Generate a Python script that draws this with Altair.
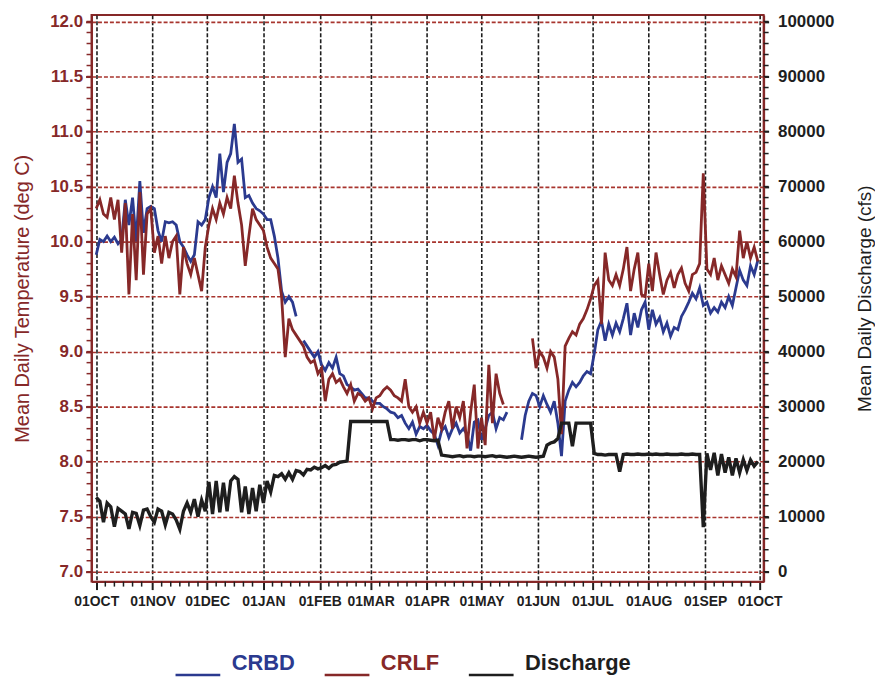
import altair as alt
import pandas as pd

nan = float("nan")

# ---------------- data (one value every 2 days from 01OCT) -------------
START_DATE = "1990-10-01"
STEP = "2D"

crbd = [
    # Oct
    9.88, 10.02, 10.00, 10.05, 10.00, 10.04, 9.98, 10.02, 10.38, 10.15, 10.40, 10.00, 10.55, 10.08, 10.30, 10.32,
    # Nov
    10.30, 10.10, 10.00, 10.18, 10.17, 10.18, 10.15, 10.00, 9.95, 9.88, 9.82, 9.88, 10.18, 10.15, 10.20,
    # Dec
    10.40, 10.50, 10.40, 10.80, 10.45, 10.72, 10.80, 11.07, 10.72, 10.75, 10.40, 10.42, 10.35, 10.30, 10.28,
    # Jan
    10.25, 10.20, 10.20, 10.05, 9.85, 9.55, 9.45, 9.50, 9.45, 9.32, nan, 9.10, 9.05, 9.00, 8.95, 9.00,
    # Feb
    8.88, 8.83, 8.90, 8.85, 8.95, 8.80, 8.78, 8.70, 8.68, 8.65, 8.66, 8.62, 8.58, 8.58,
    # Mar
    8.55, 8.53, 8.53, 8.50, 8.48, 8.45, 8.44, 8.40, 8.42, 8.35, 8.30, 8.36, 8.25, 8.32, 8.30,
    # Apr
    8.33, 8.28, 8.25, 8.15, 8.28, 8.32, 8.22, 8.30, 8.35, 8.26, 8.30, 8.25, 8.10, 8.36, 8.38,
    # May
    8.20, 8.30, 8.42, 8.45, 8.30, 8.40, 8.38, 8.45, nan, nan, nan, 8.20, 8.42, 8.55, 8.62, 8.60,
    # Jun
    8.50, 8.60, 8.52, 8.45, 8.55, 8.35, 8.05, 8.55, 8.65, 8.72, 8.68, 8.72, 8.78, 8.82, 8.80,
    # Jul
    8.98, 9.20, 9.28, 9.10, 9.25, 9.15, 9.26, 9.18, 9.30, 9.44, 9.15, 9.35, 9.22, 9.38, 9.45, 9.20,
    # Aug
    9.38, 9.25, 9.31, 9.18, 9.26, 9.14, 9.22, 9.20, 9.32, 9.38, 9.45, 9.53, 9.48, 9.58, 9.42,
    # Sep
    9.45, 9.35, 9.40, 9.36, 9.45, 9.40, 9.50, 9.42, 9.58, 9.74, 9.65, 9.60, 9.78, 9.70, 9.83,
]

crlf = [
    # Oct
    10.30, 10.38, 10.25, 10.22, 10.40, 10.20, 10.38, 9.90, 10.35, 9.52, 10.25, 9.65, 10.45, 9.70, 10.25, 10.30,
    # Nov
    9.90, 10.05, 9.80, 10.05, 9.85, 10.00, 10.05, 9.52, 9.95, 9.80, 9.70, 9.85, 9.70, 9.55, 9.95,
    # Dec
    10.15, 10.30, 10.20, 10.35, 10.25, 10.40, 10.30, 10.60, 10.35, 10.15, 9.78, 10.05, 10.30, 10.20, 10.15,
    # Jan
    10.10, 9.95, 9.85, 9.80, 9.75, 9.50, 8.95, 9.30, 9.20, 9.15, 9.10, 9.05, 8.95, 8.90, 8.92, 8.80,
    # Feb
    8.85, 8.55, 8.75, 8.80, 8.72, 8.75, 8.68, 8.62, 8.70, 8.55, 8.62, 8.60, 8.55, 8.58,
    # Mar
    8.48, 8.58, 8.60, 8.65, 8.68, 8.65, 8.60, 8.58, 8.55, 8.75, 8.50, 8.45, 8.50, 8.35, 8.45,
    # Apr
    8.35, 8.45, 8.20, 8.40, 8.30, 8.45, 8.55, 8.30, 8.50, 8.40, 8.55, 8.12, 8.45, 8.70, 8.12,
    # May
    8.40, 8.15, 8.88, 8.35, 8.80, 8.62, 8.52, nan, nan, nan, nan, nan, nan, nan, 9.12, 8.85,
    # Jun
    9.00, 8.95, 8.85, 9.00, 8.95, 8.75, 8.25, 9.05, 9.12, 9.18, 9.15, 9.25, 9.30, 9.38, 9.48,
    # Jul
    9.60, 9.65, 9.25, 9.90, 9.65, 9.60, 9.70, 9.60, 9.75, 9.95, 9.55, 9.75, 9.90, 9.52, 9.50, 9.80,
    # Aug
    9.55, 9.90, 9.70, 9.52, 9.65, 9.72, 9.58, 9.70, 9.76, 9.62, 9.55, 9.70, 9.72, 9.80, 10.62,
    # Sep
    9.75, 9.70, 9.85, 9.65, 9.78, 9.70, 9.62, 9.75, 9.68, 10.10, 9.85, 10.00, 9.85, 9.95, 9.82,
]

discharge = [
    # Oct
    13500, 12800, 9000, 12500, 11800, 8200, 11500, 11000, 10500, 7800, 10800, 10600, 8400, 11200, 11400, 10000,
    # Nov
    9000, 11400, 11000, 8500, 10800, 10500, 9400, 7700, 11000, 12500, 10800, 13200, 10000, 13000, 11000,
    # Dec
    16300, 10500, 16500, 10800, 16200, 11000, 16500, 17300, 16800, 10800, 15500, 10500, 15200, 11000, 15800,
    # Jan
    12500, 16500, 14500, 17500, 17300, 17800, 16800, 18000, 16800, 18400, 18200, 17600, 18600, 18500, 19000, 18700,
    # Feb
    18900, 19300, 18800, 19400, 19500, 19900, 20000, 20100, 27300, 27300, 27300, 27300, 27300, 27300,
    # Mar
    27300, 27300, 27300, 27300, 27300, 24000, 24000, 23900, 24000, 24000, 23900, 24000, 24000, 23800, 24000,
    # Apr
    24000, 23900, 23800, 23900, 21200, 21100, 21000, 20900, 21000, 21100, 20900, 21000, 21000, 20900, 21000,
    # May
    21000, 20900, 21000, 21100, 20900, 21000, 20900, 20800, 20900, 21000, 20900, 20800, 20900, 21000, 20900, 20800,
    # Jun
    20900, 21000, 23000, 23400, 23600, 24200, 27000, 27000, 27000, 22800, 27000, 27000, 27000, 27000, 27000,
    # Jul
    21500, 21300, 21300, 21200, 21300, 21300, 21300, 18200, 21300, 21400, 21300, 21300, 21400, 21300, 21300, 21400,
    # Aug
    21300, 21400, 21300, 21300, 21400, 21300, 21300, 21300, 21400, 21300, 21300, 21400, 21300, 21300, 8100,
    # Sep
    21500, 18500, 21600, 17500, 21400, 18000, 20800, 17500, 20600, 18000, 20400, 18400, 20300, 19200, 20000,
]

series_names = ["CRBD", "CRLF", "Discharge"]
series_colors = ["#2b3a8f", "#862828", "#1e1e1e"]

temp_ticks = [7.0, 7.5, 8.0, 8.5, 9.0, 9.5, 10.0, 10.5, 11.0, 11.5, 12.0]
flow_ticks = [0, 10000, 20000, 30000, 40000, 50000, 60000, 70000, 80000, 90000, 100000]

# ---------------- styling ----------------
FONT = "Liberation Sans"
RED = "#862828"
GRID_RED = "#a8352e"
BLACK = "#1e1e1e"

dates = pd.date_range(START_DATE, periods=len(crbd), freq=STEP)


def long_frame(values, name):
    s = pd.Series(values, dtype=float)
    seg = s.isna().cumsum().astype(str)
    df = pd.DataFrame({
        "date": dates.strftime("%Y-%m-%d"),
        "value": s.values,
        "series": name,
        "seg": (name + "-" + seg).values,
    })
    return df.dropna(subset=["value"])


temp_df = pd.concat([long_frame(crbd, "CRBD"), long_frame(crlf, "CRLF")], ignore_index=True)
flow_df = long_frame(discharge, "Discharge")

month_starts = pd.date_range("1990-10-01", "1991-10-01", freq="MS")
month_values = [alt.DateTime(year=d.year, month=d.month, date=1, utc=True) for d in month_starts]
minor_dates = [
    (m + pd.Timedelta(days=k)).strftime("%Y-%m-%d")
    for m in month_starts[:-1] for k in (5, 10, 15, 20, 25)
]
temp_minor = [round(7.0 + 0.1 * i, 1) for i in range(51)]
flow_minor = [2000 * i for i in range(51)]

x_scale = alt.Scale(
    type="utc",
    domain=[alt.DateTime(year=1990, month=9, date=28, hours=10, utc=True),
            alt.DateTime(year=1991, month=10, date=3, hours=5, utc=True)],
    nice=False,
)
temp_scale = alt.Scale(domain=[6.91, 12.06], nice=False, zero=False)
flow_scale = alt.Scale(domain=[-1800, 101200], nice=False, zero=False)
color_scale = alt.Scale(domain=series_names, range=series_colors)

x_axis = alt.Axis(
    values=month_values,
    labelExpr="upper(utcFormat(datum.value, '%d%b'))",
    title=None,
    grid=True, gridColor=BLACK, gridDash=[4, 2], gridWidth=1.6,
    tickColor=BLACK, tickSize=8, tickWidth=2,
    domainColor=RED, domainWidth=2,
    labelFont=FONT, labelFontSize=14, labelFontWeight="bold", labelColor=BLACK,
    labelPadding=5, labelFlush=False, labelOverlap=False,
)
temp_axis = alt.Axis(
    orient="left", values=temp_ticks, format=".1f",
    grid=True, gridColor=GRID_RED, gridDash=[4, 2], gridWidth=1.6,
    tickColor=RED, tickSize=6, tickWidth=2,
    domainColor=RED, domainWidth=2,
    labelFont=FONT, labelFontSize=17, labelFontWeight="bold", labelColor=RED, labelPadding=3,
    title="Mean Daily Temperature (deg C)", titleFont=FONT, titleFontSize=20,
    titleFontWeight="normal", titleColor=RED, titlePadding=17,
)
flow_axis = alt.Axis(
    orient="right", values=flow_ticks, format="d",
    grid=False,
    tickColor=BLACK, tickSize=5, tickWidth=2,
    domainColor=RED, domainWidth=2,
    labelFont=FONT, labelFontSize=17, labelFontWeight="bold", labelColor=BLACK, labelPadding=9,
    title="Mean Daily Discharge (cfs)", titleFont=FONT, titleFontSize=19,
    titleFontWeight="normal", titleColor=BLACK, titlePadding=41, titleAngle=270,
)

label_color_expr = (
    f"datum.value === '{series_names[0]}' ? '{series_colors[0]}' : "
    f"datum.value === '{series_names[1]}' ? '{series_colors[1]}' : '{series_colors[2]}'"
)
legend = alt.Legend(
    orient="none", legendX=83, legendY=628, direction="horizontal", title=None,
    symbolType="M-1,0.52L1,0.52", symbolSize=2025, symbolStrokeWidth=2.5,
    labelFont=FONT, labelFontSize=22, labelFontWeight="bold",
    labelColor={"expr": label_color_expr},
    labelOffset=10, columnPadding=24, padding=0,
)

temp_lines = alt.Chart(temp_df).mark_line(strokeWidth=2.8).encode(
    x=alt.X("date:T", scale=x_scale, axis=x_axis),
    y=alt.Y("value:Q", scale=temp_scale, axis=temp_axis),
    color=alt.Color("series:N", scale=color_scale, legend=legend),
    detail="seg:N",
)
flow_line = alt.Chart(flow_df).mark_line(strokeWidth=3.4).encode(
    x=alt.X("date:T", scale=x_scale, axis=x_axis),
    y=alt.Y("value:Q", scale=flow_scale, axis=flow_axis),
    color=alt.Color("series:N", scale=color_scale, legend=legend),
)
left_minor = alt.Chart(pd.DataFrame({"t": temp_minor})).mark_rule(color=RED, strokeWidth=1.5).encode(
    y=alt.Y("t:Q", scale=temp_scale, axis=None),
    x=alt.value(-5), x2=alt.value(0),
)
right_minor = alt.Chart(pd.DataFrame({"q": flow_minor})).mark_rule(color=BLACK, strokeWidth=1.5).encode(
    y=alt.Y("q:Q", scale=flow_scale, axis=None),
    x=alt.value(676), x2=alt.value(681),
)
bottom_minor = alt.Chart(pd.DataFrame({"date": minor_dates})).mark_rule(color=BLACK, strokeWidth=1.5).encode(
    x=alt.X("date:T", scale=x_scale, axis=x_axis),
    y=alt.value(570), y2=alt.value(575),
)

chart = (
    alt.layer(temp_lines, flow_line, left_minor, right_minor, bottom_minor)
    .resolve_scale(y="independent")
    .properties(
        width=676, height=570,
        autosize="none",
        padding={"left": 84, "top": 5, "right": 112, "bottom": 97},
        background="white",
    )
    .configure_view(stroke=RED, strokeWidth=2)
)

chart.save("out.html", embed_options={"renderer": "svg", "actions": False})
